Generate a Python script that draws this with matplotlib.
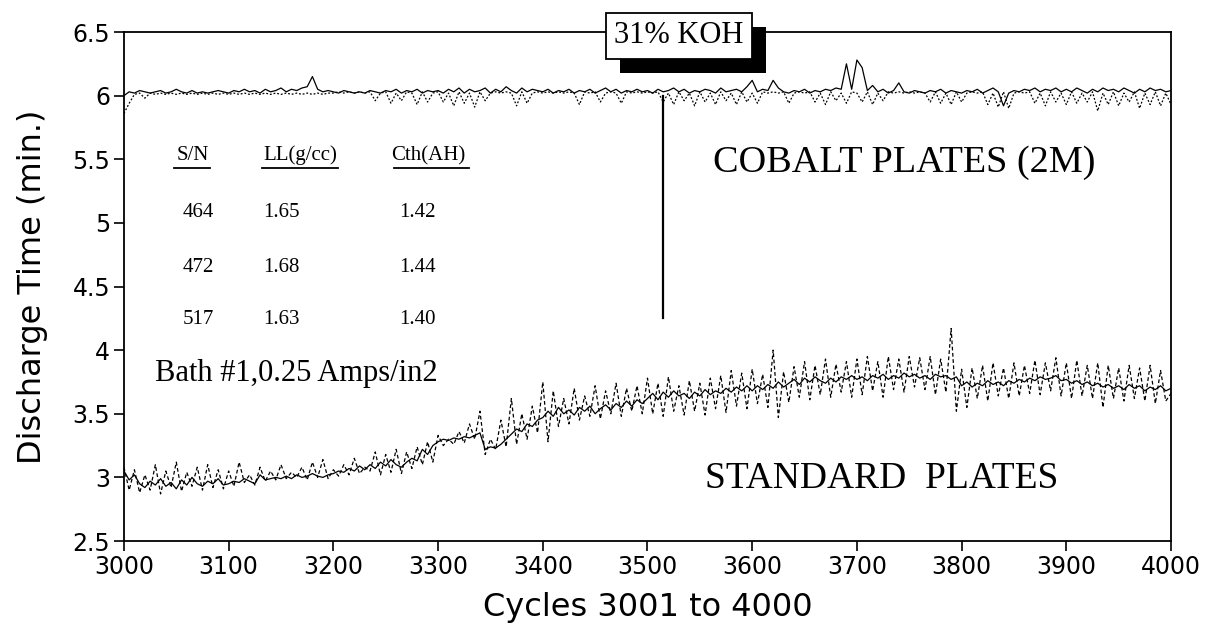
import numpy as np
import matplotlib.pyplot as plt
from matplotlib import patheffects

# cycles sampled every 5
cycles = np.arange(3000, 4001, 5)

# cobalt plates (2M), solid trace
cobalt_solid = [
    6.00, 6.03, 6.02, 6.04, 6.03, 6.02, 6.03, 6.04, 6.02, 6.03, 6.05, 6.03, 6.02, 6.04, 6.02, 6.03, 6.02, 6.03, 6.04, 6.03,
    6.02, 6.04, 6.03, 6.05, 6.03, 6.04, 6.02, 6.05, 6.03, 6.04, 6.06, 6.03, 6.05, 6.04, 6.06, 6.07, 6.15, 6.05, 6.03, 6.04,
    6.03, 6.02, 6.04, 6.03, 6.02, 6.03, 6.02, 6.04, 6.03, 6.02, 6.04, 6.03, 6.05, 6.02, 6.04, 6.03, 6.05, 6.02, 6.04, 6.03,
    6.04, 6.02, 6.05, 6.03, 6.06, 6.02, 6.05, 6.03, 6.04, 6.06, 6.02, 6.05, 6.03, 6.07, 6.04, 6.02, 6.06, 6.03, 6.05, 6.04,
    6.03, 6.05, 6.02, 6.04, 6.03, 6.05, 6.02, 6.04, 6.03, 6.05, 6.02, 6.04, 6.06, 6.03, 6.05, 6.02, 6.04, 6.03, 6.05, 6.03,
    6.04, 6.02, 6.05, 6.03, 6.04, 6.06, 6.03, 6.05, 6.02, 6.04, 6.03, 6.05, 6.04, 6.02, 6.06, 6.03, 6.04, 6.05, 6.03, 6.07,
    6.12, 6.03, 6.05, 6.04, 6.12, 6.06, 6.03, 6.02, 6.04, 6.03, 6.05, 6.02, 6.04, 6.03, 6.05, 6.04, 6.06, 6.05, 6.25, 6.05,
    6.28, 6.22, 6.04, 6.08, 6.03, 6.05, 6.02, 6.04, 6.10, 6.03, 6.02, 6.04, 6.03, 6.02, 6.04, 6.03, 6.05, 6.02, 6.04, 6.03,
    6.02, 6.04, 6.03, 6.05, 6.02, 6.04, 6.06, 6.03, 5.92, 6.02, 6.04, 6.03, 6.05, 6.04, 6.06, 6.03, 6.05, 6.04, 6.06, 6.03,
    6.05, 6.03, 6.06, 6.04, 6.02, 6.05, 6.03, 6.06, 6.04, 6.05, 6.03, 6.06, 6.04, 6.02, 6.05, 6.03, 6.06, 6.04, 6.05, 6.03,
    6.04]

# cobalt plates (2M), dotted trace
cobalt_dotted = [
    5.86, 5.94, 6.01, 6.02, 5.98, 6.02, 6.01, 6.02, 6.01, 6.02, 6.01, 6.02, 6.01, 6.02, 6.01, 6.02, 6.01, 6.02, 6.01, 6.02,
    6.01, 6.02, 6.01, 6.02, 6.01, 6.02, 6.01, 6.02, 6.01, 6.02, 6.01, 6.02, 6.01, 6.02, 6.01, 6.02, 6.01, 6.02, 6.01, 6.02,
    6.02, 6.03, 6.02, 6.03, 6.02, 6.03, 6.02, 6.03, 5.96, 6.02, 6.03, 5.94, 6.02, 5.96, 6.03, 6.02, 5.93, 6.03, 5.95, 6.02,
    6.03, 5.95, 6.02, 5.92, 6.03, 5.94, 6.02, 5.91, 6.03, 5.96, 6.02, 6.03, 6.02, 6.03, 6.02, 5.92, 6.03, 5.94, 6.02, 6.03,
    6.02, 6.03, 6.02, 6.03, 6.02, 6.03, 6.02, 5.93, 6.03, 6.02, 6.03, 5.95, 6.02, 6.03, 6.02, 5.94, 6.03, 6.02, 6.03, 6.02,
    6.03, 6.02, 6.03, 5.95, 6.02, 5.93, 6.03, 5.96, 6.02, 5.92, 6.03, 5.95, 6.02, 5.93, 6.03, 5.96, 6.02, 5.93, 6.03, 5.95,
    6.02, 5.94, 6.03, 6.02, 6.03, 6.02, 6.03, 5.94, 6.02, 6.03, 6.02, 6.03, 5.95, 6.02, 5.93, 6.03, 5.96, 6.02, 5.94, 6.03,
    6.02, 5.95, 6.03, 5.93, 6.02, 5.96, 6.03, 6.02, 6.03, 6.02, 6.03, 6.02, 6.03, 6.02, 5.95, 6.03, 5.94, 6.02, 5.93, 6.03,
    5.95, 6.02, 6.03, 6.02, 6.03, 5.93, 6.02, 5.91, 6.03, 5.90, 6.02, 6.03, 6.02, 6.03, 5.94, 6.02, 5.92, 6.03, 5.95, 6.02,
    5.93, 6.03, 5.94, 6.02, 5.95, 6.03, 5.88, 6.02, 5.93, 6.03, 5.92, 6.02, 5.95, 6.03, 5.90, 6.02, 5.93, 6.03, 5.92, 6.02,
    5.93]

# standard plates, solid trace
standard_solid = [
    3.05, 2.98, 3.02, 2.95, 2.92, 2.97, 2.94, 2.99, 2.93, 2.96, 2.91, 2.98, 2.94, 3.00, 2.95, 2.93, 2.97, 2.95, 2.99, 2.94,
    2.95, 2.97, 2.96, 2.99, 2.97, 2.95, 3.02, 2.98, 2.99, 3.00, 2.99, 3.01, 2.99, 3.02, 3.00, 3.01, 3.03, 3.01, 3.00, 3.02,
    3.03, 3.05, 3.04, 3.07, 3.05, 3.09, 3.06, 3.10, 3.07, 3.12, 3.09, 3.14, 3.10, 3.08, 3.12, 3.15, 3.13, 3.22, 3.18, 3.25,
    3.28, 3.30, 3.29, 3.31, 3.30, 3.32, 3.31, 3.33, 3.35, 3.22, 3.24, 3.23, 3.26, 3.30, 3.34, 3.38, 3.36, 3.42, 3.40, 3.45,
    3.47, 3.52, 3.48, 3.55, 3.50, 3.53, 3.49, 3.55, 3.52, 3.56, 3.50, 3.54, 3.57, 3.53, 3.58, 3.55, 3.60, 3.56, 3.61, 3.58,
    3.62, 3.66, 3.61, 3.67, 3.63, 3.68, 3.64, 3.66, 3.62, 3.67, 3.64, 3.69, 3.65, 3.68, 3.66, 3.70, 3.67, 3.71, 3.68, 3.72,
    3.68, 3.72, 3.69, 3.73, 3.70, 3.75, 3.71, 3.74, 3.77, 3.73, 3.78, 3.75, 3.79, 3.76, 3.74, 3.78, 3.75, 3.79, 3.77, 3.80,
    3.77, 3.79, 3.76, 3.80, 3.78, 3.81, 3.77, 3.80, 3.78, 3.82, 3.79, 3.81, 3.78, 3.80, 3.77, 3.81, 3.79, 3.80, 3.77, 3.79,
    3.72, 3.75, 3.71, 3.74, 3.72, 3.76, 3.73, 3.75, 3.72, 3.76, 3.74, 3.77, 3.75, 3.78, 3.76, 3.79, 3.77, 3.78, 3.80, 3.76,
    3.77, 3.74, 3.76, 3.73, 3.75, 3.72, 3.74, 3.71, 3.73, 3.70, 3.72, 3.69, 3.73, 3.70, 3.72, 3.68, 3.71, 3.69, 3.72, 3.68,
    3.70]

# standard plates, dashed trace
standard_dashed = [
    3.08, 2.90, 3.06, 2.88, 3.02, 2.90, 3.10, 2.87, 3.05, 2.92, 3.12, 2.89, 3.04, 2.93, 3.08, 2.90, 3.10, 2.92, 3.06, 2.91,
    3.05, 2.93, 3.12, 2.96, 3.02, 2.94, 3.08, 2.97, 3.05, 2.98, 3.10, 2.99, 3.04, 3.00, 3.08, 2.98, 3.12, 3.00, 3.14, 2.99,
    3.06, 3.01, 3.10, 3.02, 3.15, 3.03, 3.08, 3.05, 3.20, 3.02, 3.18, 3.04, 3.22, 3.03, 3.20, 3.07, 3.24, 3.10, 3.28, 3.12,
    3.33, 3.25, 3.30, 3.26, 3.36, 3.27, 3.42, 3.30, 3.52, 3.18, 3.30, 3.22, 3.45, 3.24, 3.62, 3.26, 3.50, 3.30, 3.56, 3.35,
    3.75, 3.28, 3.68, 3.40, 3.62, 3.42, 3.70, 3.45, 3.64, 3.48, 3.72, 3.46, 3.68, 3.50, 3.74, 3.48, 3.70, 3.52, 3.72, 3.50,
    3.78, 3.50, 3.74, 3.48, 3.79, 3.52, 3.72, 3.49, 3.76, 3.52, 3.74, 3.49, 3.78, 3.54, 3.80, 3.51, 3.84, 3.56, 3.82, 3.54,
    3.85, 3.58, 3.81, 3.55, 4.00, 3.47, 3.83, 3.59, 3.87, 3.63, 3.91, 3.61, 3.88, 3.65, 3.93, 3.63, 3.89, 3.67, 3.91, 3.63,
    3.93, 3.65, 3.95, 3.68, 3.91, 3.63, 3.95, 3.69, 3.93, 3.67, 3.95, 3.71, 3.94, 3.69, 3.95, 3.65, 3.93, 3.67, 4.17, 3.52,
    3.85, 3.55, 3.86, 3.62, 3.88, 3.60, 3.90, 3.64, 3.86, 3.62, 3.90, 3.64, 3.88, 3.66, 3.92, 3.65, 3.90, 3.68, 3.94, 3.64,
    3.90, 3.62, 3.92, 3.64, 3.88, 3.62, 3.90, 3.55, 3.88, 3.62, 3.86, 3.60, 3.88, 3.62, 3.86, 3.60, 3.88, 3.58, 3.84, 3.60,
    3.66]

# cell table
sn = ['464', '472', '517']
ll = ['1.65', '1.68', '1.63']
cth = ['1.42', '1.44', '1.40']
row_y = [5.08, 4.65, 4.24]

koh_cycle = 3515
koh_line = [4.25, 6.0]

sans = ['DejaVu Sans']
serif = ['Liberation Serif', 'DejaVu Serif']

fig = plt.figure(figsize=(12.08, 6.24), dpi=100)
ax = fig.add_axes([0.1026, 0.133, 0.8668, 0.8157])

ax.plot(cycles, cobalt_dotted, color='black', lw=0.9, ls=(0, (1.5, 1.5)))
ax.plot(cycles, cobalt_solid, color='black', lw=0.9)
ax.plot(cycles, standard_dashed, color='black', lw=0.9, ls=(0, (3, 2)))
ax.plot(cycles, standard_solid, color='black', lw=0.9)

ax.plot([koh_cycle, koh_cycle], koh_line, color='black', lw=1.6)

ax.set_xlim(3000, 4000)
ax.set_ylim(2.5, 6.5)
ax.set_xticks(np.arange(3000, 4001, 100))
ax.set_yticks(np.arange(2.5, 6.51, 0.5))
ax.set_yticklabels(['2.5', '3', '3.5', '4', '4.5', '5', '5.5', '6', '6.5'])
ax.tick_params(direction='out', length=7, width=1.2, labelsize=17, pad=3)
for lab in ax.get_xticklabels() + ax.get_yticklabels():
    lab.set_family(sans)
for sp in ax.spines.values():
    sp.set_linewidth(1.3)

ax.set_xlabel('Cycles 3001 to 4000', family=sans, fontsize=23)
ax.xaxis.set_label_coords(0.5, -0.100)
ax.set_ylabel('Discharge Time (min.)', family=sans, fontsize=23)
ax.yaxis.set_label_coords(-0.073, 0.5)

# table of cells
hdr_y = 5.53
for x, s in [(3066, 'S/N'), (3168, 'LL(g/cc)'), (3291, 'Cth(AH)')]:
    ax.text(x, hdr_y, s, family=serif, fontsize=15, ha='center', va='center')
ax.plot([3048, 3082], [5.43, 5.43], color='black', lw=1.3)
ax.plot([3132, 3204], [5.43, 5.43], color='black', lw=1.3)
ax.plot([3258, 3330], [5.43, 5.43], color='black', lw=1.3)
for i in range(3):
    ax.text(3071, row_y[i], sn[i], family=serif, fontsize=15, ha='center', va='center')
    ax.text(3150, row_y[i], ll[i], family=serif, fontsize=15, ha='center', va='center')
    ax.text(3280, row_y[i], cth[i], family=serif, fontsize=15, ha='center', va='center')

ax.text(3030, 3.82, 'Bath #1,0.25 Amps/in2', family=serif, fontsize=22, ha='left', va='center')
ax.text(3745, 5.47, 'COBALT PLATES (2M)', family=serif, fontsize=27.5, ha='center', va='center')
ax.text(3724, 2.99, 'STANDARD  PLATES', family=serif, fontsize=27, ha='center', va='center')

# 31% KOH box with drop shadow
koh = ax.text(3530, 6.47, '31% KOH', family=serif, fontsize=22, ha='center', va='center',
              clip_on=False, zorder=6,
              bbox=dict(boxstyle='square,pad=0.28', facecolor='white', edgecolor='black', lw=1.3))
koh.get_bbox_patch().set_path_effects([
    patheffects.SimplePatchShadow(offset=(10, -10), shadow_rgbFace='black', alpha=1.0),
    patheffects.Normal()])

fig.savefig('out.png', dpi=100)
